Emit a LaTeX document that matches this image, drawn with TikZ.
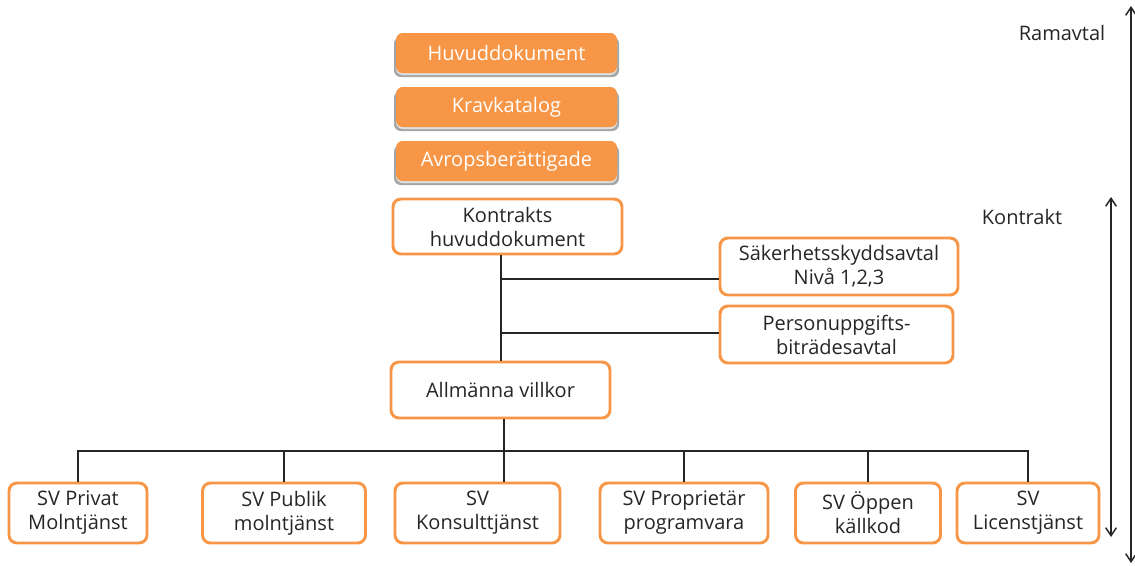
\documentclass[tikz,border=0pt]{standalone}
\usepackage{fontspec}
\setmainfont{Open Sans}
\usetikzlibrary{arrows.meta}
\definecolor{orng}{HTML}{F79646}
\definecolor{ink}{HTML}{262626}
\begin{document}
\begin{tikzpicture}[x=0.75pt,y=-0.75pt,
  font=\fontsize{15pt}{18pt}\selectfont,
  obox/.style={rectangle, rounded corners=5pt, fill=orng, text=white, inner sep=0pt, minimum height=30pt, minimum width=165.75pt},
  wbox/.style={rectangle, rounded corners=6pt, draw=orng, line width=2.2pt, fill=white, text=ink, align=center, inner sep=0pt},
  link/.style={draw=ink, line width=1.2pt},
  span/.style={draw=ink, line width=1.1pt, {Straight Barb[length=6pt,width=8pt]}-{Straight Barb[length=6pt,width=8pt]}}
]
\useasboundingbox (0,0) rectangle (1135,565);
\fill[white] (0,0) rectangle (1135,565);

% shadows under orange boxes
\foreach \cy in {53,107,161}{
  \fill[gray!70, rounded corners=5pt] (394,\cy-16) rectangle (619,\cy+24);
  \fill[gray!25, rounded corners=5pt] (396,\cy-16) rectangle (617,\cy+22);
}
\node[obox] (hd) at (506.5,53) {Huvuddokument};
\node[obox] (kk) at (506.5,107) {Kravkatalog};
\node[obox] (ab) at (506.5,161) {Avropsberättigade};

\node[wbox, minimum width=171.75pt, minimum height=41.25pt] (kh) at (507.5,226.5) {Kontrakts\\huvuddokument};
\node[wbox, minimum width=178.5pt, minimum height=42.75pt] (sak) at (839,266.5) {Säkerhetsskyddsavtal\\Nivå 1,2,3};
\node[wbox, minimum width=174.75pt, minimum height=42.75pt] (pers) at (836.5,334.5) {Personuppgifts-\\biträdesavtal};
\node[wbox, minimum width=164.25pt, minimum height=42pt] (allm) at (500.5,390) {Allmänna villkor};

\node[wbox, minimum width=103.5pt, minimum height=45pt] (p1) at (78,513) {SV Privat\\Molntjänst};
\node[wbox, minimum width=122.25pt, minimum height=45pt] (p2) at (284,513) {SV Publik\\molntjänst};
\node[wbox, minimum width=123.75pt, minimum height=45pt] (p3) at (477.5,513) {SV\\Konsulttjänst};
\node[wbox, minimum width=126pt, minimum height=45pt] (p4) at (684,513) {SV Proprietär\\programvara};
\node[wbox, minimum width=108.75pt, minimum height=45pt] (p5) at (868,513) {SV Öppen\\källkod};
\node[wbox, minimum width=106.5pt, minimum height=45pt] (p6) at (1028,513) {SV\\Licenstjänst};

% connectors upper
\coordinate (t1) at (501,279);
\coordinate (t2) at (501,333);
\draw[link] (kh.south -| t1) -- (allm.north -| t1);
\draw[link] (t1) -- (t1 -| sak.west);
\draw[link] (t2) -- (t2 -| pers.west);

% bus
\coordinate (bus) at (504,451);
\draw[link] (allm.south -| bus) -- (p3.north -| bus);
\draw[link] (p1.north) -- (p1.north |- bus) -- (bus -| p6.north) -- (p6.north);
\draw[link] (p2.north) -- (p2.north |- bus);
\draw[link] (p4.north) -- (p4.north |- bus);
\draw[link] (p5.north) -- (p5.north |- bus);

% right spans
\node[text=ink] (ram) at (1062,33) {Ramavtal};
\node[text=ink] (kon) at (1022,217) {Kontrakt};
\coordinate (r1) at (1131,6);
\coordinate (r2) at (1131,563);
\coordinate (k1) at (1111,197);
\coordinate (k2) at (1111,537);
\draw[span] (r1) -- (r2);
\draw[span] (k1) -- (k2);
\end{tikzpicture}
\end{document}
